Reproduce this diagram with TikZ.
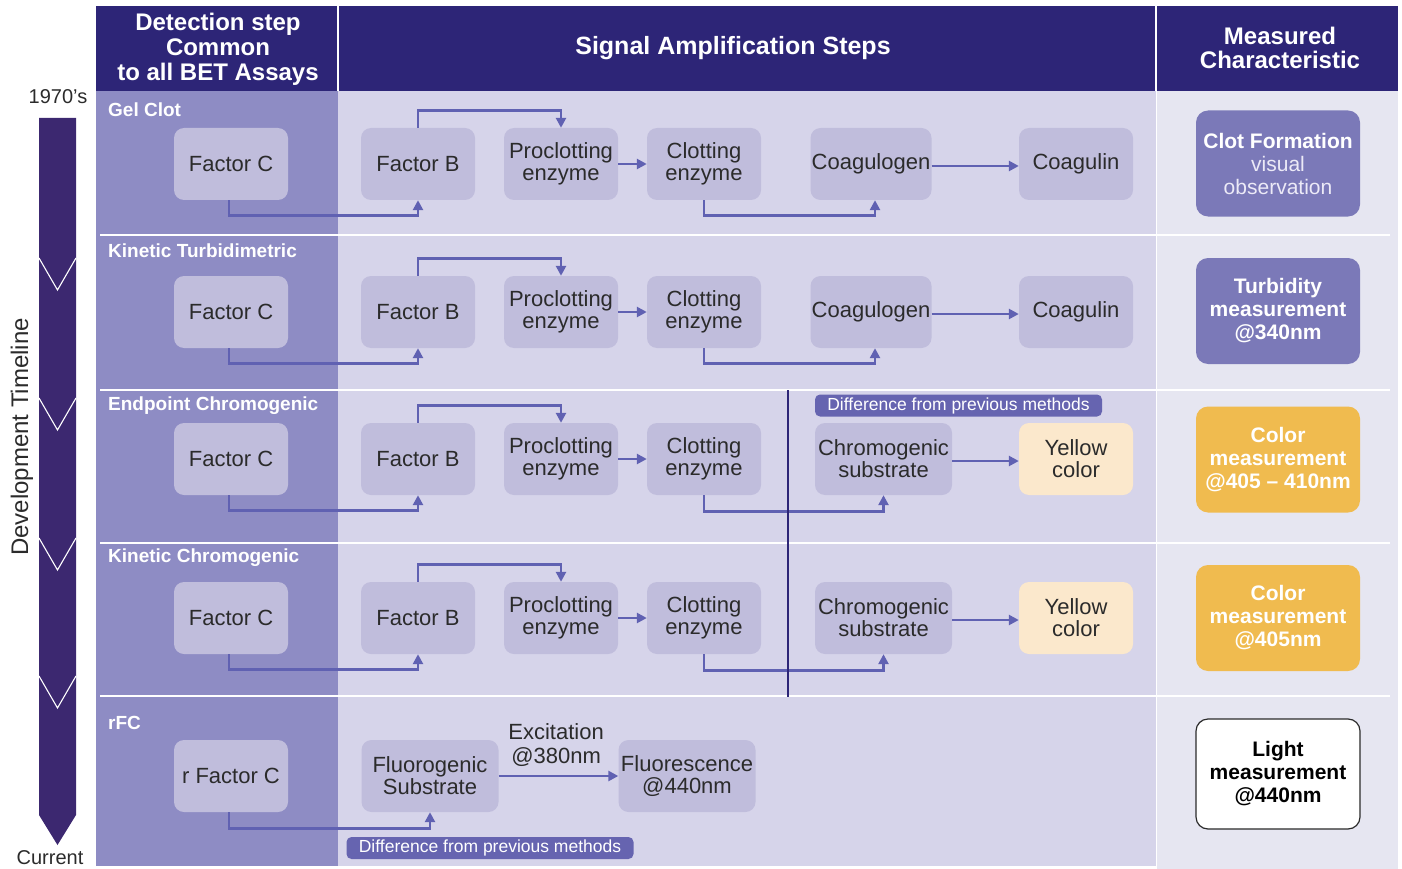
\documentclass[tikz,border=0pt]{standalone}
\usepackage{fontspec}
\setmainfont{Liberation Sans}
\usetikzlibrary{arrows.meta}
\definecolor{navy}{HTML}{2D2577}
\definecolor{tbar}{HTML}{3C2870}
\definecolor{colone}{HTML}{8E8CC4}
\definecolor{coltwo}{HTML}{D6D4EA}
\definecolor{colthree}{HTML}{E6E6F1}
\definecolor{boxc}{HTML}{C0BDDC}
\definecolor{linec}{HTML}{6061B2}
\definecolor{diffc}{HTML}{6664B0}
\definecolor{clotc}{HTML}{7B79B8}
\definecolor{orangec}{HTML}{F0BB4F}
\definecolor{yelc}{HTML}{FBE8CC}
\definecolor{txt}{HTML}{2B2B2B}
\definecolor{lighttxt}{HTML}{ECEAF7}
\begin{document}
\begin{tikzpicture}[x=1pt,y=-1pt,
  box/.style={rounded corners=10pt, fill=boxc, minimum width=114pt, minimum height=72pt, inner sep=0pt, align=center, text=txt, font=\fontsize{22}{22}\selectfont},
  wbox/.style={box, minimum width=137pt},
  gbox/.style={box, minimum width=121pt},
  rbox/.style={rounded corners=12pt, minimum width=164pt, minimum height=106pt, inner sep=0pt, align=center, text=white, font=\bfseries\fontsize{21}{23}\selectfont},
  rowlab/.style={anchor=west, text=white, font=\bfseries\fontsize{19}{20}\selectfont, inner sep=0pt},
  head/.style={text=white, align=center, font=\bfseries\fontsize{25}{25}\selectfont, inner sep=0pt},
  conn/.style={draw=linec, line width=2.7pt},
  arr/.style={conn, -{Triangle[length=10pt,width=10pt]}},
  diff/.style={fill=diffc, rounded corners=5pt, text=white, minimum width=287pt, minimum height=22pt, inner sep=0pt, font=\fontsize{17.5}{17.5}\selectfont},
  sep/.style={white, line width=1.5pt},
  side/.style={text=txt, inner sep=0pt, font=\fontsize{20}{20}\selectfont}
]
\useasboundingbox (0,0) rectangle (1402,869);
% backgrounds
\fill[navy] (96,6) rectangle (1398,91);
\fill[colone] (96,91) rectangle (338,866);
\fill[coltwo] (338,91) rectangle (1156,866);
\fill[colthree] (1157,91) rectangle (1398,869);
\draw[white, line width=2.5pt] (338,6) -- (338,91);
\draw[white, line width=2.5pt] (1156,6) -- (1156,91);
\foreach \yy in {235,390,543,696} \draw[sep] (100,\yy) -- (1390,\yy);
% header
\node[head, font=\bfseries\fontsize{24}{25}\selectfont] (h1) at (218,49) {Detection step\\Common\\to all BET Assays};
\node[head] (h2) at (733,48) {Signal Amplification Steps};
\node[head, font=\bfseries\fontsize{24}{24}\selectfont] (h3) at (1280,48) {Measured\\Characteristic};
% timeline
\fill[tbar] (39,118) -- (76,118) -- (76,815) -- (57.5,845) -- (39,815) -- cycle;
\foreach \yy in {258,398,538,676} \draw[white, line width=1.1pt] (39,\yy) -- (57.5,\yy+32) -- (76,\yy);
\node[side] (t1) at (58,97) {1970’s};
\node[side] (t2) at (50,858) {Current};
\node[side, rotate=90, font=\fontsize{24}{24}\selectfont] (t3) at (22,437) {Development Timeline};
% row labels
\node[rowlab] (l1) at (108,110) {Gel Clot};
\node[rowlab] (l2) at (108,251) {Kinetic Turbidimetric};
\node[rowlab] (l3) at (108,406) {Endpoint Chromogenic};
\node[rowlab] (l4) at (108,558) {Kinetic Chromogenic};
\node[rowlab] (l5) at (108,723) {rFC};
% common rows
\foreach \r/\y in {1/164,2/312,3/459,4/618}{
  \node[box] (fc\r) at (231,\y) {Factor C};
  \node[box] (fb\r) at (418,\y) {Factor B};
  \node[box] (pe\r) at (561,\y) {Proclotting\\enzyme};
  \node[box] (ce\r) at (704,\y) {Clotting\\enzyme};
  \draw[arr] ([xshift=-2pt]fc\r.south) -- ++(0,15) -| (fb\r.south);
  \draw[arr] (fb\r.north) -- ++(0,-17) -| (pe\r.north);
  \draw[arr] (pe\r.east) -- (ce\r.west);
}
% rows 1,2
\foreach \r/\y in {1/164,2/312}{
  \node[gbox] (cg\r) at (871,\y) {Coagulogen};
  \node[box] (cn\r) at (1076,\y) {Coagulin};
  \draw[arr] (ce\r.south) -- ++(0,15) -| ([xshift=4pt]cg\r.south);
  \draw[arr] ([yshift=-2pt]cg\r.east) -- ([yshift=-2pt]cn\r.west);
}
% rows 3,4
\foreach \r/\y in {3/459,4/618}{
  \node[wbox] (cs\r) at (883.5,\y) {Chromogenic\\substrate};
  \node[box, fill=yelc] (yc\r) at (1076,\y) {Yellow\\color};
  \draw[arr] (ce\r.south) -- ++(0,16) -| (cs\r.south);
  \draw[arr] ([yshift=-2pt]cs\r.east) -- ([yshift=-2pt]yc\r.west);
}
\coordinate (vtop) at (788,390);
\coordinate (vbot) at (788,697);
\draw[navy, line width=2.5pt] (vtop) -- (vbot);
\node[diff] (d1) at (958.5,405.5) {Difference from previous methods};
% rFC row
\node[box] (rfc) at (231,776) {r Factor C};
\node[wbox] (fs) at (430,776) {Fluorogenic\\Substrate};
\node[wbox] (fl) at (687,776) {Fluorescence\\@440nm};
\draw[arr] (fs.east) -- node[pos=0.48, above=8pt, text=txt, align=center, font=\fontsize{22}{24}\selectfont, inner sep=0pt] (ex) {Excitation\\@380nm} (fl.west);
\draw[arr] ([xshift=-2pt]rfc.south) -- ++(0,16) -| (fs.south);
\node[diff] (d2) at (490,848) {Difference from previous methods};
% measured characteristic
\node[rbox, fill=clotc] (m1) at (1278,163.5) {Clot Formation\\{\mdseries\color{lighttxt}visual}\\{\mdseries\color{lighttxt}observation}};
\node[rbox, fill=clotc] (m2) at (1278,311) {Turbidity\\measurement\\@340nm};
\node[rbox, fill=orangec] (m3) at (1278,459.5) {Color\\measurement\\@405 – 410nm};
\node[rbox, fill=orangec] (m4) at (1278,618) {Color\\measurement\\@405nm};
\node[rbox, fill=white, draw=txt, line width=1.2pt, text=black, minimum height=110pt] (m5) at (1278,774) {Light\\measurement\\@440nm};
\end{tikzpicture}
\end{document}
